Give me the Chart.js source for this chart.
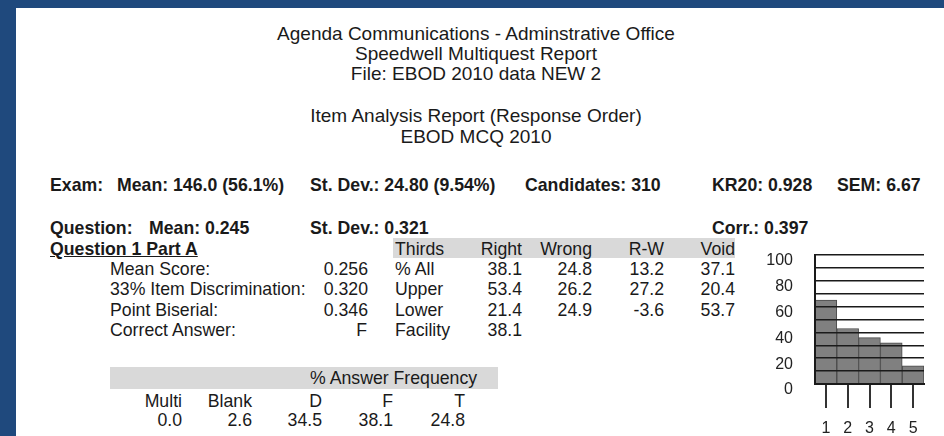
<!DOCTYPE html>
<html>
<head>
<meta charset="utf-8">
<script src="https://cdn.jsdelivr.net/npm/chart.js@4/dist/chart.umd.min.js"></script>
<style>
  html, body { margin:0; padding:0; }
  body { width:944px; height:436px; background:#1F497D; position:relative; overflow:hidden;
         font-family:"Liberation Sans", Arial, sans-serif; color:#1a1a1a; }
  #panel { position:absolute; left:16px; top:8px; right:0; bottom:0; background:#fff; }
  .h { position:absolute; left:0; width:952px; text-align:center; font-size:19px; line-height:22px; white-space:nowrap; }
  .t { position:absolute; font-size:17.7px; line-height:20px; white-space:nowrap; }
  .b { font-weight:bold; }
  .u { text-decoration:underline; }
  .band { position:absolute; background:#d9d9d9; }
  #chartBox { position:absolute; left:760px; top:240px; width:184px; height:196px; }
</style>
</head>
<body>
<div id="panel"></div>

<div class="h" style="top:23px">Agenda Communications - Adminstrative Office</div>
<div class="h" style="top:43px">Speedwell Multiquest Report</div>
<div class="h" style="top:63px">File: EBOD 2010 data NEW 2</div>
<div class="h" style="top:105px">Item Analysis Report (Response Order)</div>
<div class="h" style="top:126px">EBOD MCQ 2010</div>

<div class="t b" style="top:175px;left:50px">Exam:</div>
<div class="t b" style="top:175px;left:117px">Mean: 146.0 (56.1%)</div>
<div class="t b" style="top:175px;left:310px">St. Dev.: 24.80 (9.54%)</div>
<div class="t b" style="top:175px;left:525px">Candidates: 310</div>
<div class="t b" style="top:175px;left:712px">KR20: 0.928</div>
<div class="t b" style="top:175px;left:837px">SEM: 6.67</div>

<div class="t b" style="top:218px;left:50px">Question:</div>
<div class="t b" style="top:218px;left:149px">Mean: 0.245</div>
<div class="t b" style="top:218px;left:310px">St. Dev.: 0.321</div>
<div class="t b" style="top:218px;left:712px">Corr.: 0.397</div>

<div class="band" style="left:393px;top:238px;width:342px;height:20px"></div>
<div class="t b u" style="top:239px;left:50px">Question 1 Part A</div>
<div class="t" style="top:239px;left:395px">Thirds</div>
<div class="t" style="top:239px;right:422px">Right</div>
<div class="t" style="top:239px;right:352px">Wrong</div>
<div class="t" style="top:239px;right:280px">R-W</div>
<div class="t" style="top:239px;right:209px">Void</div>

<div class="t" style="top:259px;left:110px">Mean Score:</div>
<div class="t" style="top:259px;right:576px">0.256</div>
<div class="t" style="top:259px;left:395px">% All</div>
<div class="t" style="top:259px;right:422px">38.1</div>
<div class="t" style="top:259px;right:352px">24.8</div>
<div class="t" style="top:259px;right:280px">13.2</div>
<div class="t" style="top:259px;right:209px">37.1</div>

<div class="t" style="top:279px;left:110px">33% Item Discrimination:</div>
<div class="t" style="top:279px;right:576px">0.320</div>
<div class="t" style="top:279px;left:395px">Upper</div>
<div class="t" style="top:279px;right:422px">53.4</div>
<div class="t" style="top:279px;right:352px">26.2</div>
<div class="t" style="top:279px;right:280px">27.2</div>
<div class="t" style="top:279px;right:209px">20.4</div>

<div class="t" style="top:300px;left:110px">Point Biserial:</div>
<div class="t" style="top:300px;right:576px">0.346</div>
<div class="t" style="top:300px;left:395px">Lower</div>
<div class="t" style="top:300px;right:422px">21.4</div>
<div class="t" style="top:300px;right:352px">24.9</div>
<div class="t" style="top:300px;right:280px">-3.6</div>
<div class="t" style="top:300px;right:209px">53.7</div>

<div class="t" style="top:320px;left:110px">Correct Answer:</div>
<div class="t" style="top:320px;right:577px">F</div>
<div class="t" style="top:320px;left:395px">Facility</div>
<div class="t" style="top:320px;right:422px">38.1</div>

<div class="band" style="left:110px;top:367px;width:388px;height:22px"></div>
<div class="t" style="top:368px;left:310px">% Answer Frequency</div>
<div class="t" style="top:391px;right:762px">Multi</div>
<div class="t" style="top:391px;right:692px">Blank</div>
<div class="t" style="top:391px;right:622px">D</div>
<div class="t" style="top:391px;right:551px">F</div>
<div class="t" style="top:391px;right:479px">T</div>
<div class="t" style="top:410px;right:762px">0.0</div>
<div class="t" style="top:410px;right:692px">2.6</div>
<div class="t" style="top:410px;right:622px">34.5</div>
<div class="t" style="top:410px;right:551px">38.1</div>
<div class="t" style="top:410px;right:479px">24.8</div>

<div id="chartBox"><canvas id="c" width="184" height="196"></canvas></div>

<script>
const categories = ['1', '2', '3', '4', '5'];
const barValues = [65, 43, 36, 32, 14];
const yTickLabels = [0, 20, 40, 60, 80, 100];

new Chart(document.getElementById('c'), {
  type: 'bar',
  data: {
    labels: categories,
    datasets: [{
      data: barValues,
      backgroundColor: '#808080',
      borderColor: '#4a4a4a',
      borderWidth: 1,
      barPercentage: 1,
      categoryPercentage: 1
    }]
  },
  options: {
    responsive: false,
    animation: false,
    events: [],
    layout: { padding: { top: 15, right: 20, left: 0, bottom: 0 } },
    plugins: { legend: { display: false }, tooltip: { enabled: false } },
    scales: {
      y: {
        min: 0, max: 100,
        afterFit: s => { s.width = 55; },
        ticks: {
          stepSize: 10,
          autoSkip: false,
          padding: 2,
          labelOffset: 6,
          color: '#222',
          font: { family: '"Liberation Sans", Arial, sans-serif', size: 16 },
          callback: v => yTickLabels.includes(v) ? String(v) : ''
        },
        grid: { color: '#1a1a1a', lineWidth: 1.5, drawTicks: true, tickLength: 20, tickColor: 'rgba(0,0,0,0)', z: 1 },
        border: { color: '#1a1a1a', width: 2, z: 2 }
      },
      x: {
        offset: true,
        afterFit: s => { s.height = 52; },
        ticks: {
          padding: 11,
          color: '#222',
          font: { family: '"Liberation Sans", Arial, sans-serif', size: 16 }
        },
        grid: { offset: false, drawOnChartArea: false, drawTicks: true, tickLength: 24, color: '#333', lineWidth: 2 },
        border: { color: '#1a1a1a', width: 2, z: 2 }
      }
    }
  }
});
</script>
</body>
</html>
